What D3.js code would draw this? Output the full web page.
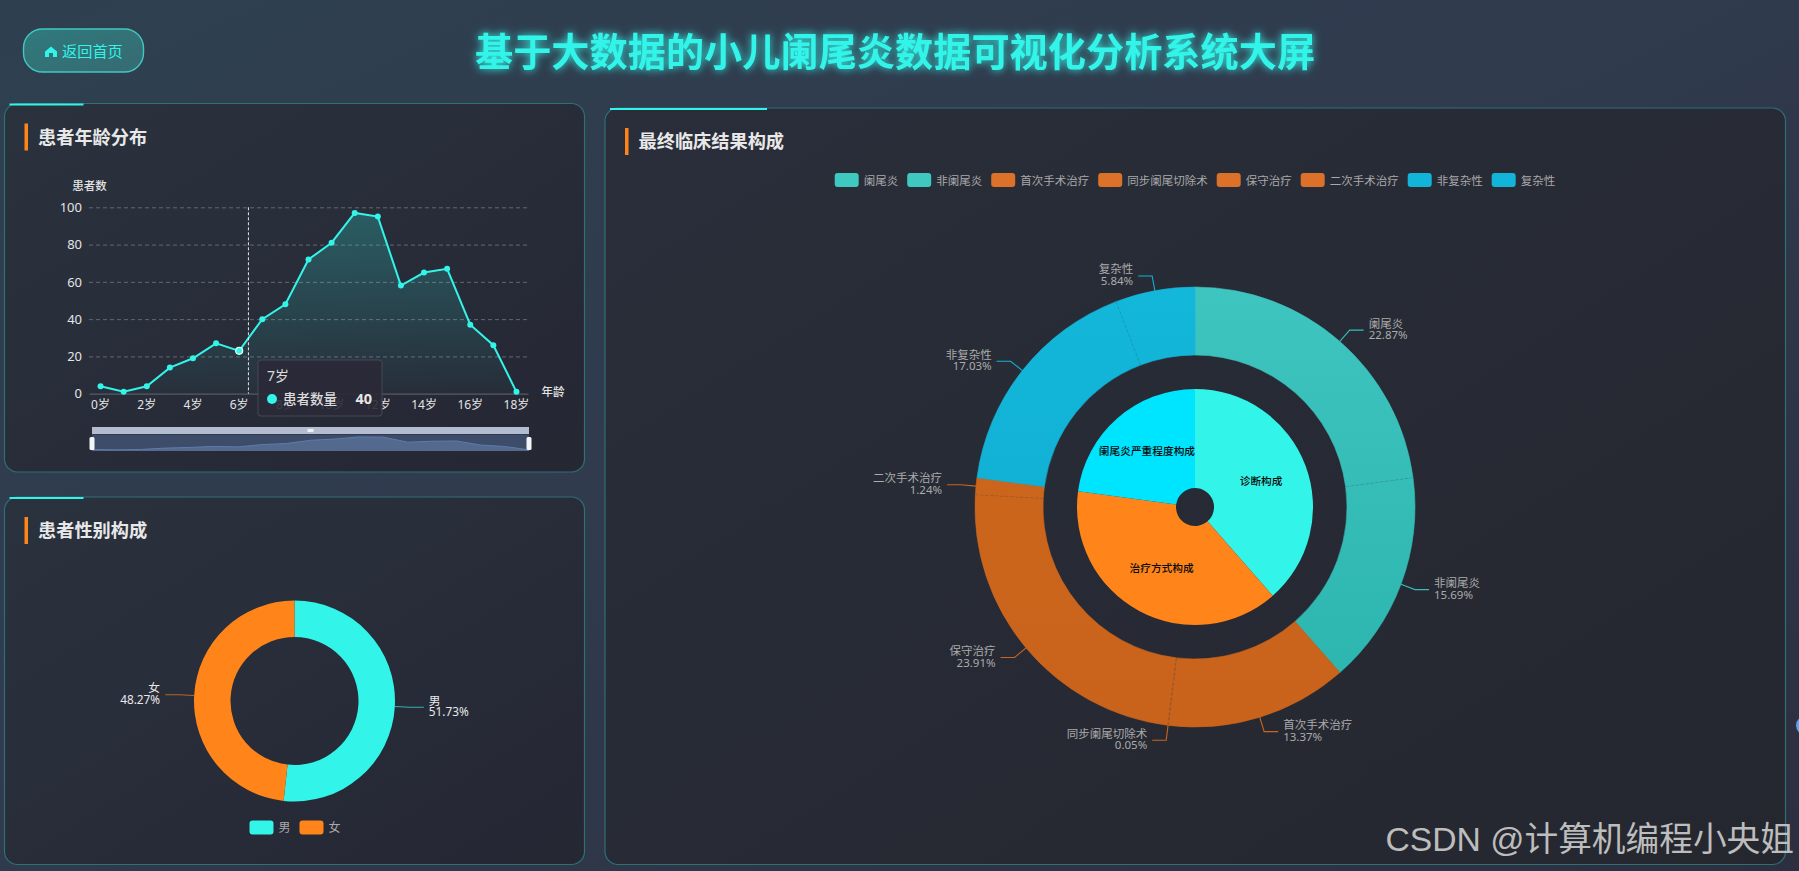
<!DOCTYPE html>
<html>
<head>
<meta charset="utf-8">
<title>小儿阑尾炎数据大屏</title>
<script src="https://cdn.jsdelivr.net/npm/d3@7/dist/d3.min.js"></script>
<style>
html,body{margin:0;padding:0;width:1799px;height:871px;overflow:hidden;background:#2c3646;}
svg{display:block;}
text{font-family:"Noto Sans","Noto Sans CJK SC",sans-serif;}
</style>
</head>
<body>
<svg id="screen" width="1799" height="871"></svg>
<script>
// chart values
var ageLabels = ["0岁","1岁","2岁","3岁","4岁","5岁","6岁","7岁","8岁","9岁","10岁","11岁","12岁","13岁","14岁","15岁","16岁","17岁","18岁"];
var ageCounts = [4,1,4,14,19,27,23,40,48,72,81,97,95,58,65,67,37,26,1];
var ageTicks = [0,20,40,60,80,100];

var genderNames = ["男","女"];
var genderShares = [51.73,48.27];

var outcomeNames = ["阑尾炎","非阑尾炎","首次手术治疗","同步阑尾切除术","保守治疗","二次手术治疗","非复杂性","复杂性"];
var outcomeShares = [22.87,15.69,13.37,0.05,23.91,1.24,17.03,5.84];
var outcomeGroups = [0,0,1,1,1,1,2,2];

var groupNames = ["诊断构成","治疗方式构成","阑尾炎严重程度构成"];
var groupShares = [38.56,38.57,22.87];

var pageTitle = "基于大数据的小儿阑尾炎数据可视化分析系统大屏";
var hoverIndex = 6, hoverAge = 6.4, tipLabel = "7岁", tipName = "患者数量", tipValue = 40;

var cyan = "#32f4e8", orange = "#ff851b", sky = "#00e5ff";
var innerColors = [cyan, orange, sky];
var ringColors = ["#38bdb8","#cb641c","#11b3d6"];
var legendColors = ["#3ec8c0","#dc7129","#13b4d9"];

var svg = d3.select("#screen");
var defs = svg.append("defs");

function gradient(id, x2, y2, stops) {
    var g = defs.append("linearGradient").attr("id",id)
        .attr("x1",0).attr("y1",0).attr("x2",x2).attr("y2",y2);
    stops.forEach(function(s) {
        g.append("stop").attr("offset",s[0]).attr("stop-color",s[1]).attr("stop-opacity",s[2] === undefined ? 1 : s[2]);
    });
    return g;
}
gradient("pageBg",1,1,[[0,"#2e4050"],[0.45,"#303b4e"],[1,"#2c2f40"]]);
gradient("panelBg",1,1,[[0,"#2a323e"],[1,"#252733"]]);
gradient("bigPanelBg",1,1,[[0,"#292e3a"],[1,"#25272f"]]);
gradient("btnBg",1,1,[[0,"#2f7a7c"],[1,"#376a72"]]);
gradient("areaFill",0,1,[[0,cyan,0.24],[1,cyan,0.02]]);

// ring colours darken a little towards the bottom of the ring
[["#3ec5bf","#2bb3ae"],["#cf671d","#c9631b"],["#13b7da","#0fabcf"]].forEach(function(c, i) {
    gradient("ring" + i,0,1,[[0,c[0]],[1,c[1]]])
        .attr("gradientUnits","userSpaceOnUse").attr("y1",-220).attr("y2",220).attr("x1",0).attr("x2",0);
});

var glow = defs.append("filter").attr("id","glow").attr("x","-10%").attr("y","-50%").attr("width","120%").attr("height","200%");
glow.append("feGaussianBlur").attr("in","SourceGraphic").attr("stdDeviation",4).attr("result","b");
var glowMerge = glow.append("feMerge");
glowMerge.append("feMergeNode").attr("in","b");
glowMerge.append("feMergeNode").attr("in","SourceGraphic");

svg.append("rect").attr("width",1799).attr("height",871).attr("fill","url(#pageBg)");

// header
svg.append("rect").attr("x",23.5).attr("y",29).attr("width",120).attr("height",43).attr("rx",19)
    .attr("fill","url(#btnBg)").attr("stroke","#40c9bf").attr("stroke-width",1.4);
svg.append("path").attr("transform","translate(45,46.5)")
    .attr("d","M6 0 L12 5 L12 10.5 L8 10.5 L8 6.5 L4 6.5 L4 10.5 L0 10.5 L0 5 Z")
    .attr("fill",cyan);
svg.append("text").attr("x",62).attr("y",56.5).attr("font-size",15.2).attr("fill",cyan).text("返回首页");
svg.append("text").attr("x",895).attr("y",66).attr("text-anchor","middle")
    .attr("font-size",38.2).attr("font-weight",700).attr("fill",cyan).attr("filter","url(#glow)")
    .text(pageTitle);

function panel(x, y, w, h, fill, accent, title) {
    svg.append("rect").attr("x",x).attr("y",y).attr("width",w).attr("height",h).attr("rx",13)
        .attr("fill",fill).attr("stroke","#2f6f76").attr("stroke-width",1.2);
    svg.append("rect").attr("x",x + 5).attr("y",y).attr("width",accent).attr("height",2).attr("fill",cyan);
    svg.append("rect").attr("x",x + 20).attr("y",y + 20).attr("width",3.5).attr("height",27).attr("fill",orange);
    svg.append("text").attr("x",x + 33.5).attr("y",y + 40).attr("font-size",18.2).attr("font-weight",700)
        .attr("fill","#e8e8e8").text(title);
}
panel(4.5,103.5,580,368.5,"url(#panelBg)",74,"患者年龄分布");
panel(4.5,497,580,367.5,"url(#panelBg)",74,"患者性别构成");
panel(605,108,1180.5,756.5,"url(#bigPanelBg)",157,"最终临床结果构成");

// ---- age line chart ----
var plot = {left:89, right:528, top:207.3, bottom:393.7};
var xScale = d3.scaleBand().domain(ageLabels).range([plot.left,plot.right]);
var yScale = d3.scaleLinear().domain([0,100]).range([plot.bottom,plot.top]);
var xAt = function(i) { return xScale(ageLabels[i]) + xScale.bandwidth()/2; };
var lineChart = svg.append("g");

var yAxisG = lineChart.append("g").attr("transform","translate(" + plot.left + ",0)")
    .call(d3.axisLeft(yScale).tickValues(ageTicks).tickSize(-(plot.right - plot.left)).tickPadding(7));
yAxisG.select(".domain").remove();
yAxisG.selectAll(".tick line").attr("stroke","#62686f").attr("stroke-dasharray","4,3")
    .filter(function(d) { return d === 0; }).remove();
yAxisG.selectAll(".tick text").attr("fill","#e4e4e4").attr("font-size",13).style("font-family",'"Noto Sans"');

var xAxisG = lineChart.append("g").attr("transform","translate(0," + plot.bottom + ")")
    .call(d3.axisBottom(xScale).tickValues(ageLabels.filter(function(d,i) { return i % 2 === 0; })).tickSize(0).tickPadding(7));
xAxisG.select(".domain").attr("stroke","#565b63").attr("stroke-width",1.2);
xAxisG.selectAll(".tick text").attr("fill","#e4e4e4").attr("font-size",12).style("font-family",'"Noto Sans","Noto Sans CJK SC"');

lineChart.append("text").attr("x",89.5).attr("y",190).attr("text-anchor","middle")
    .attr("font-size",11.5).attr("font-weight",500).attr("fill","#e4e4e4").text("患者数");
lineChart.append("text").attr("x",541.5).attr("y",396).attr("font-size",11.5).attr("font-weight",500).attr("fill","#e4e4e4").text("年龄");

var areaGen = d3.area().x(function(d,i) { return xAt(i); }).y0(plot.bottom).y1(function(d) { return yScale(d); });
var lineGen = d3.line().x(function(d,i) { return xAt(i); }).y(function(d) { return yScale(d); });
lineChart.append("path").attr("d",areaGen(ageCounts)).attr("fill","url(#areaFill)");
lineChart.append("path").attr("d",lineGen(ageCounts)).attr("fill","none").attr("stroke",cyan).attr("stroke-width",2);
lineChart.selectAll("circle.pt").data(ageCounts).enter().append("circle").attr("class","pt")
    .attr("cx",function(d,i) { return xAt(i); }).attr("cy",function(d) { return yScale(d); })
    .attr("r",function(d,i) { return i === hoverIndex ? 3.5 : 3; })
    .attr("fill",cyan)
    .attr("stroke",function(d,i) { return i === hoverIndex ? "#e8fffd" : "none"; })
    .attr("stroke-width",1.2);

// hover pointer
var hoverX = d3.scaleLinear().domain([0,18]).range([xAt(0),xAt(18)])(hoverAge);
lineChart.append("line").attr("x1",hoverX).attr("x2",hoverX).attr("y1",plot.top).attr("y2",plot.bottom)
    .attr("stroke","#e8e8e8").attr("stroke-dasharray","3,2");

// tooltip
var tip = svg.append("g").attr("transform","translate(258,360)");
tip.append("rect").attr("width",124).attr("height",56).attr("rx",3)
    .attr("fill","#2a2937").attr("fill-opacity",0.9).attr("stroke","#474953");
tip.append("text").attr("x",9).attr("y",21).attr("font-size",14).attr("fill","#dcdcdc").text(tipLabel);
tip.append("circle").attr("cx",14).attr("cy",39).attr("r",5).attr("fill",cyan);
tip.append("text").attr("x",25).attr("y",44).attr("font-size",13.5).attr("font-weight",500).attr("fill","#dcdcdc").text(tipName);
tip.append("text").attr("x",114).attr("y",44).attr("text-anchor","end").attr("font-size",14.5).attr("font-weight",700).attr("fill","#e6e6e6").text(tipValue);

// data zoom slider under the chart
var sliderBox = {left:92, right:529, top:427, bar:434, bottom:451};
var miniX = d3.scalePoint().domain(ageLabels).range([sliderBox.left,sliderBox.right]);
var miniY = d3.scaleLinear().domain([0,100]).range([sliderBox.bottom - 1,sliderBox.bar + 2.5]);
var slider = svg.append("g");
slider.append("rect").attr("x",sliderBox.left).attr("y",sliderBox.top)
    .attr("width",sliderBox.right - sliderBox.left).attr("height",sliderBox.bar - sliderBox.top).attr("fill","#b4bccf");
slider.append("rect").attr("x",sliderBox.left).attr("y",sliderBox.bar + 0.5)
    .attr("width",sliderBox.right - sliderBox.left).attr("height",sliderBox.bottom - sliderBox.bar - 0.5).attr("fill","#3c4c69");
slider.append("path").attr("fill","#536a8e")
    .attr("d",d3.area().x(function(d,i) { return miniX(ageLabels[i]); }).y0(sliderBox.bottom).y1(function(d) { return miniY(d); })(ageCounts));
slider.append("path").attr("fill","none").attr("stroke","#5f7bab").attr("stroke-width",1)
    .attr("d",d3.line().x(function(d,i) { return miniX(ageLabels[i]); }).y(function(d) { return miniY(d); })(ageCounts));
[sliderBox.left,sliderBox.right].forEach(function(hx) {
    slider.append("rect").attr("x",hx - 2.5).attr("y",437).attr("width",5).attr("height",13).attr("rx",1.5).attr("fill","#f4f5f8");
});
slider.append("rect").attr("x",(sliderBox.left + sliderBox.right)/2 - 3).attr("y",429).attr("width",6).attr("height",3).attr("fill","#eef0f5");

// ---- shared pie helpers ----
var pieGen = d3.pie().sort(null).value(function(d) { return d; });

function labelledSlices(g, arcs, names, colorOf, R, textColor, fontSize) {
    arcs.forEach(function(a, i) {
        var mid = (a.startAngle + a.endAngle)/2;
        var sx = Math.sin(mid), cy = -Math.cos(mid);
        var side = sx >= 0 ? 1 : -1;
        var p0 = [sx*R, cy*R], p1 = [sx*(R + 15), cy*(R + 15)], p2 = [p1[0] + side*14, p1[1]];
        g.append("path").attr("d",d3.line()([p0,p1,p2])).attr("fill","none")
            .attr("stroke",colorOf(i)).attr("stroke-width",1.1);
        var anchor = side > 0 ? "start" : "end";
        g.append("text").attr("x",p2[0] + side*5).attr("y",p2[1] - 2.6).attr("text-anchor",anchor)
            .attr("font-size",fontSize).attr("fill",textColor).text(names[i]);
        g.append("text").attr("x",p2[0] + side*5).attr("y",p2[1] + 9).attr("text-anchor",anchor)
            .attr("font-size",fontSize).attr("fill",textColor).text(a.value.toFixed(2) + "%");
    });
}

// ---- gender donut ----
var genderG = svg.append("g").attr("transform","translate(294.5,701)");
var genderColors = [cyan, orange];
var genderArcs = pieGen(genderShares);
var genderArc = d3.arc().innerRadius(64).outerRadius(100.5);
genderG.selectAll("path.slice").data(genderArcs).enter().append("path").attr("class","slice")
    .attr("d",genderArc).attr("fill",function(d,i) { return genderColors[i]; });
labelledSlices(genderG, genderArcs, genderNames, function(i) { return i === 0 ? "#2fb5ae" : "#b8662a"; }, 100.5, "#e8e8e8", 11.8);

function legendRow(row, names, colors, gap, fontSize, textColor) {
    var x = 0;
    names.forEach(function(n, i) {
        row.append("rect").attr("x",x).attr("y",-7).attr("width",24).attr("height",14).attr("rx",3).attr("fill",colors[i]);
        row.append("text").attr("x",x + 29).attr("y",4.5).attr("font-size",fontSize).attr("fill",textColor).text(n);
        x += 29 + n.length*fontSize + gap;
    });
}
legendRow(svg.append("g").attr("transform","translate(249.5,827.5)"), genderNames, genderColors, 9, 12, "#a9a9a9");

// ---- clinical outcome double ring ----
var outcomeG = svg.append("g").attr("transform","translate(1195,507)");
var outcomeArcs = pieGen(outcomeShares);
var ringArc = d3.arc().innerRadius(152).outerRadius(220);
outcomeG.selectAll("path.ring").data(outcomeArcs).enter().append("path").attr("class","ring")
    .attr("d",ringArc).attr("fill",function(d,i) { return "url(#ring" + outcomeGroups[i] + ")"; })
    .attr("stroke",function(d,i) { return "url(#ring" + outcomeGroups[i] + ")"; }).attr("stroke-width",0.6);
// faint dividers between slices of the same group
outcomeArcs.forEach(function(a, i) {
    if (i > 0 && outcomeGroups[i] === outcomeGroups[i - 1]) {
        var sx = Math.sin(a.startAngle), cy = -Math.cos(a.startAngle);
        outcomeG.append("line").attr("x1",sx*152).attr("y1",cy*152).attr("x2",sx*220).attr("y2",cy*220)
            .attr("stroke","#1d3c48").attr("stroke-opacity",0.28).attr("stroke-width",0.7).attr("stroke-dasharray","3,2");
    }
});

var groupArcs = pieGen(groupShares);
var innerArc = d3.arc().innerRadius(19).outerRadius(118);
var coreNudge = [[2,-1],[-1,2],[-3,-3]];
outcomeG.selectAll("path.core").data(groupArcs).enter().append("path").attr("class","core")
    .attr("d",innerArc).attr("fill",function(d,i) { return innerColors[i]; });
outcomeG.selectAll("text.core").data(groupArcs).enter().append("text").attr("class","core")
    .attr("x",function(d,i) { return innerArc.centroid(d)[0] + coreNudge[i][0]; })
    .attr("y",function(d,i) { return innerArc.centroid(d)[1] + 3 + coreNudge[i][1]; })
    .attr("text-anchor","middle").attr("font-size",10.7).attr("font-weight",500).attr("fill","#0b0b0b")
    .text(function(d,i) { return groupNames[i]; });

labelledSlices(outcomeG, outcomeArcs, outcomeNames, function(i) { return ringColors[outcomeGroups[i]]; }, 220, "#ababab", 11.5);

legendRow(svg.append("g").attr("transform","translate(834.7,180)"), outcomeNames,
    outcomeGroups.map(function(g) { return legendColors[g]; }), 9, 11.5, "#a9a9a9");

// right edge scroll widget and watermark from the screenshot
svg.append("circle").attr("cx",1806).attr("cy",725.5).attr("r",10).attr("fill","#5fa3f2");
svg.append("text").attr("x",1794).attr("y",851).attr("text-anchor","end")
    .attr("font-size",33.7).attr("fill","#bdbdbd")
    .style("font-family",'"Liberation Sans","Noto Sans CJK SC",sans-serif')
    .text("CSDN @计算机编程小央姐");
</script>
</body>
</html>
